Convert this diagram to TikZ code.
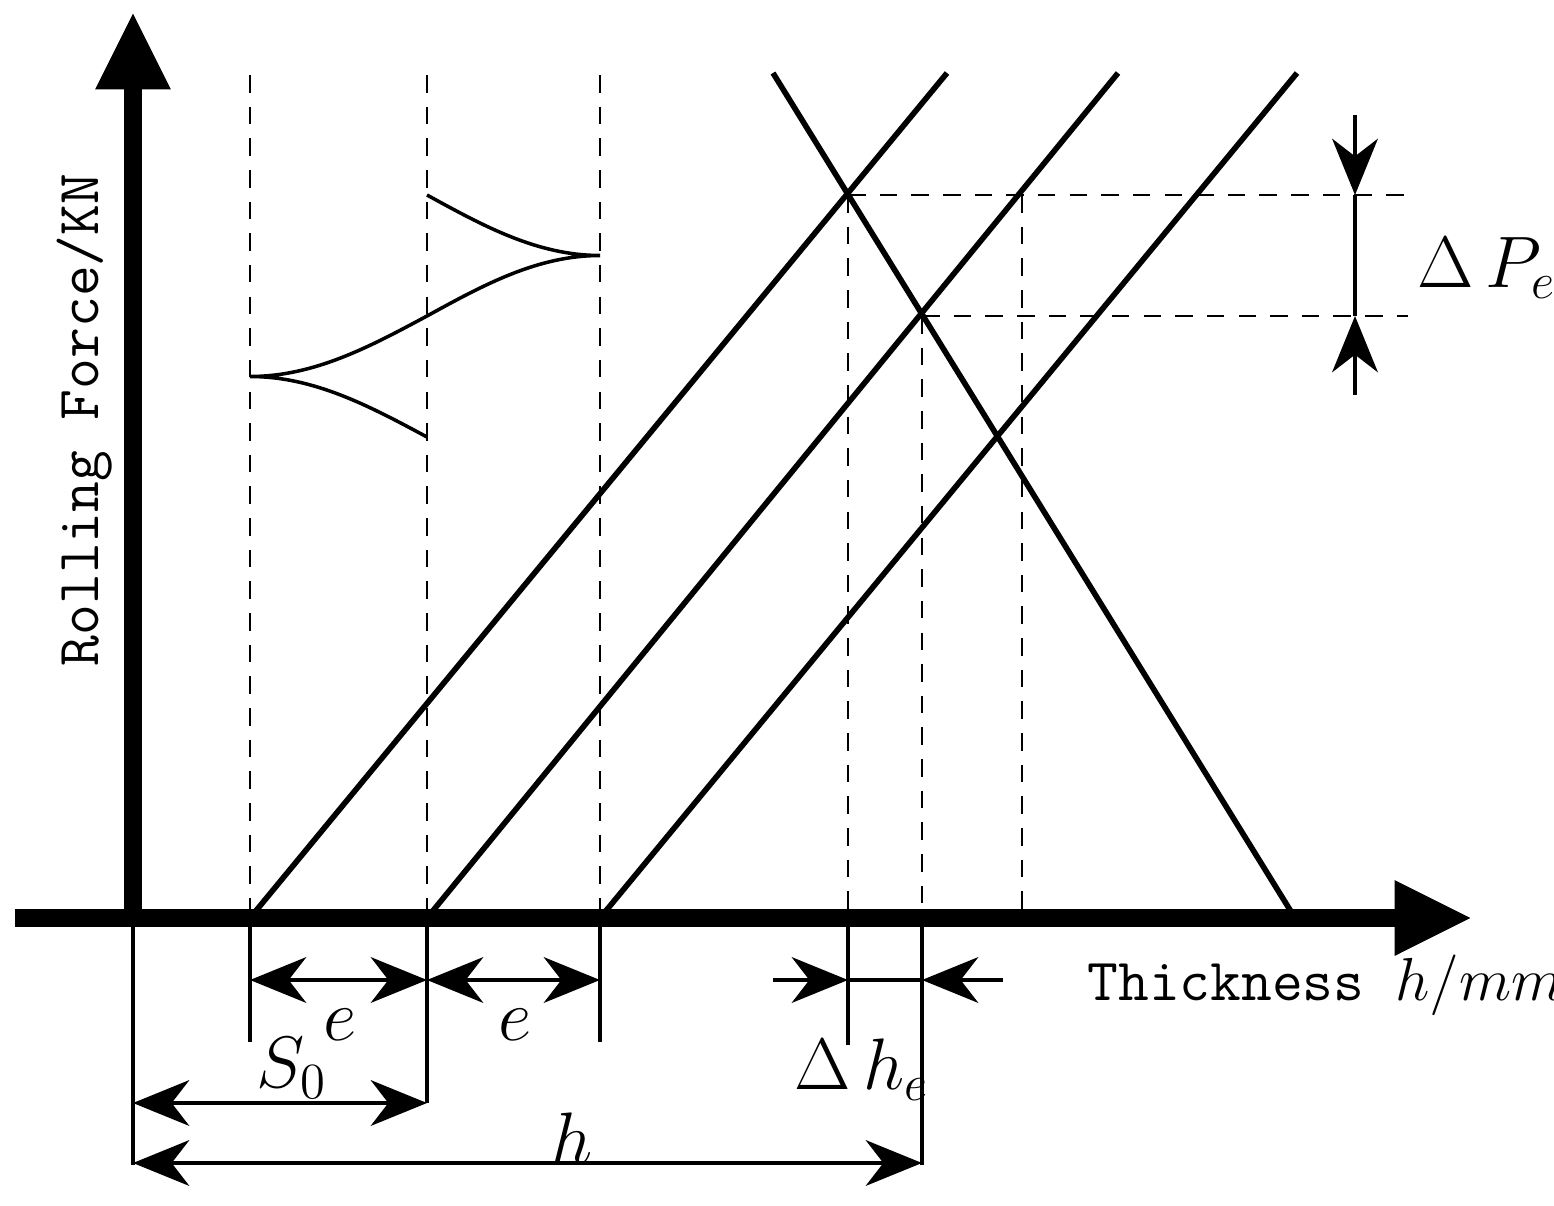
\documentclass[tikz,border=0pt]{standalone}
\usetikzlibrary{arrows.meta}
\begin{document}
\begin{tikzpicture}[x=0.01cm,y=-0.01cm,
  ax/.style={line width=5pt,-{Triangle[length=22pt,width=20pt]}},
  dsh/.style={dashed,line width=0.8pt,dash pattern=on 5pt off 4pt},
  thn/.style={line width=1pt},
  ln/.style={line width=1.6pt},
  arr/.style={line width=1pt,-{Stealth[length=16pt,width=13pt,inset=5pt]}},
  lab/.style={font=\fontsize{22}{26}\selectfont},
  mono/.style={font=\ttfamily\fontsize{17}{20}\selectfont}]
\useasboundingbox (0,0) rectangle (1554,1206);
% axes
\coordinate (O) at (133,918);
\coordinate (ytip) at (133,12);
\coordinate (xl) at (15,918);
\coordinate (xtip) at (1472,918);
\draw[ax] (133,918) -- (ytip);
\draw[ax] (xl) -- (xtip);
% dashed verticals
\draw[dsh] (250,75) -- (250,918);
\draw[dsh] (427,75) -- (427,918);
\draw[dsh] (600,75) -- (600,918);
\draw[dsh] (848,195) -- (848,918);
\draw[dsh] (922,316) -- (922,918);
\draw[dsh] (1022,195) -- (1022,918);
\draw[dsh] (848,195) -- (1408,195);
\draw[dsh] (922,316) -- (1408,316);
% extension lines
\draw[thn] (250,918) -- (250,1042);
\draw[thn] (427,918) -- (427,1103);
\draw[thn] (600,918) -- (600,1042);
\draw[thn] (848,918) -- (848,1045);
\draw[thn] (922,918) -- (922,1165);
\draw[thn] (133,918) -- (133,1165);
% slanted lines
\draw[ln] (250,918) -- (947,73);
\draw[ln] (427,918) -- (1118,73);
\draw[ln] (600,918) -- (1297,73);
\draw[ln] (773,73) -- (1295,918);
% sine curve
\draw[thn] (427,195) sin (600,255.5) cos (427,316) sin (250,376.5) cos (427,437);
% Delta P arrows
\draw[thn] (1355,195) -- (1355,316);
\draw[arr] (1355,115) -- (1355,195);
\draw[arr] (1355,395) -- (1355,316);
\node[lab,anchor=west] (dp) at (1405,268) {$\Delta\,P_e$};
% e arrows
\draw[arr] (339,980) -- (250,980);
\draw[arr] (339,980) -- (427,980);
\draw[arr] (513,980) -- (427,980);
\draw[arr] (513,980) -- (600,980);
\node[lab] (e1) at (340,1025) {$e$};
\node[lab] (e2) at (515,1025) {$e$};
% delta h
\draw[thn] (848,980) -- (922,980);
\draw[arr] (773,980) -- (848,980);
\draw[arr] (1003,980) -- (922,980);
\node[lab] (dh) at (862,1070) {$\Delta\,h_e$};
% S0
\draw[arr] (280,1103) -- (133,1103);
\draw[arr] (280,1103) -- (427,1103);
\node[lab] (s0) at (292,1068) {$S_0$};
% h
\draw[arr] (527,1163) -- (133,1163);
\draw[arr] (527,1163) -- (922,1163);
\node[lab] (h) at (572,1138) {$h$};
% axis labels
\node[mono,anchor=west] (xlab) at (1075,985) {Thickness $h/mm$};
\node[mono,rotate=90] (ylab) at (85,420) {Rolling Force/KN};
\end{tikzpicture}
\end{document}
